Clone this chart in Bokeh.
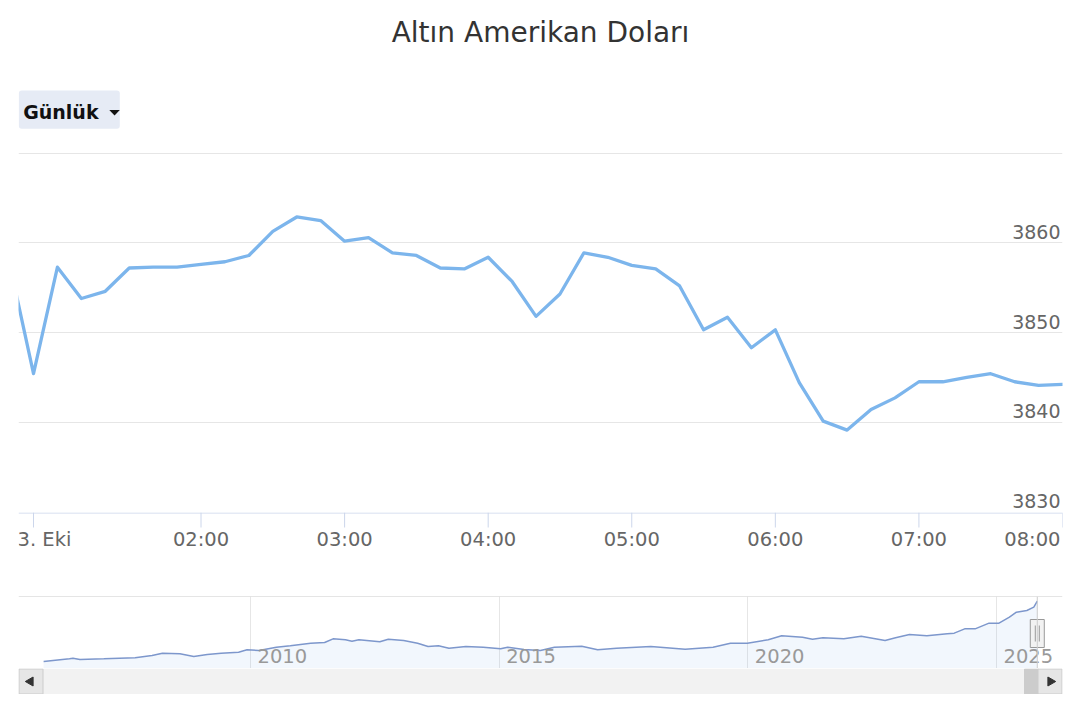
import math
from bokeh.plotting import figure
from bokeh.models import (Range1d, FixedTicker, Grid, LabelSet,
                          ColumnDataSource, Span, Quad)
from bokeh.layouts import column
from bokeh.embed import file_html
from bokeh.resources import INLINE
from bokeh.core.properties import value

FONT = "DejaVu Sans"
TITLE = "Altın Amerikan Doları"
PERIOD = "Günlük"

# ---- intraday series (10-minute points; index -1 is the last point before the session) ----
point_index = list(range(-1, 44))
prices = [3857.7, 3845.4, 3857.3, 3853.8, 3854.6, 3857.2, 3857.3, 3857.3, 3857.6, 3857.9,
          3858.6, 3861.3, 3862.9, 3862.5, 3860.2, 3860.6, 3858.9, 3858.6, 3857.2, 3857.1,
          3858.4, 3855.7, 3851.8, 3854.3, 3858.9, 3858.4, 3857.5, 3857.1, 3855.2, 3850.3,
          3851.7, 3848.3, 3850.3, 3844.4, 3840.1, 3839.1, 3841.4, 3842.7, 3844.5, 3844.5,
          3845.0, 3845.4, 3844.5, 3844.1, 3844.2]
x_tick_index = [0, 7, 13, 19, 25, 31, 37, 43]
x_tick_labels = ["3. Eki", "02:00", "03:00", "04:00", "05:00", "06:00", "07:00", "08:00"]
y_ticks = [3830, 3840, 3850, 3860, 3870]
y_tick_labels = ["3830", "3840", "3850", "3860"]

# ---- navigator (long-term) series ----
nav_years = [2005.84, 2006.36, 2006.43, 2006.57, 2007.05, 2007.68, 2008.02, 2008.23, 2008.58,
             2008.86, 2009.13, 2009.41, 2009.76, 2009.93, 2010.17, 2010.52, 2010.80, 2011.21,
             2011.49, 2011.66, 2011.91, 2012.04, 2012.18, 2012.60, 2012.77, 2013.08, 2013.36,
             2013.57, 2013.78, 2013.99, 2014.33, 2014.68, 2015.03, 2015.17, 2015.50, 2015.83,
             2016.11, 2016.66, 2016.98, 2017.36, 2018.05, 2018.74, 2019.30, 2019.65, 2019.99,
             2020.41, 2020.68, 2021.10, 2021.30, 2021.51, 2021.93, 2022.28, 2022.76, 2022.97,
             2023.25, 2023.60, 2024.01, 2024.15, 2024.36, 2024.57, 2024.85, 2025.05, 2025.26,
             2025.40, 2025.61, 2025.75, 2025.82]
nav_prices = [472, 622, 659, 584, 622, 678, 809, 940, 903,
              753, 865, 940, 996, 1127, 1090, 1277, 1352, 1502,
              1539, 1745, 1689, 1614, 1689, 1577, 1727, 1652, 1502,
              1315, 1352, 1221, 1315, 1277, 1184, 1277, 1150, 1090,
              1277, 1333, 1127, 1221, 1315, 1165, 1277, 1502, 1502,
              1689, 1914, 1839, 1727, 1802, 1745, 1895, 1652, 1802,
              1989, 1914, 2026, 2064, 2307, 2307, 2626, 2626, 2963,
              3244, 3337, 3525, 3862]
nav_year_ticks = [2010, 2015, 2020, 2025]
nav_year_labels = ["2010", "2015", "2020", "2025"]

W = 1080
L, R = 18, 18          # plot area spans page x 18 .. 1062 in every row
TXT_FIX = 7            # text glyph baseline correction (px)


def make(**kw):
    fig = figure(width=W, output_backend="svg", toolbar_location=None,
                 x_axis_location=None, y_axis_location=None,
                 min_border_left=L, min_border_right=R, **kw)
    fig.center = [r for r in fig.center if not isinstance(r, Grid)]
    fig.outline_line_color = None
    fig.background_fill_color = "white"
    fig.border_fill_color = "white"
    return fig


# ---------------- header (title + period button), page pixel space ----------------
HH = 147
hdr = make(height=HH, x_range=Range1d(L, W - R), y_range=Range1d(0, HH),
           min_border_top=0, min_border_bottom=0)
hdr.text(x=[540], y=[HH - 39.3 + TXT_FIX], text=[TITLE], text_align="center",
         text_baseline="alphabetic", text_font=value(FONT), text_font_size="28px",
         text_color="#333333")
qkw = {"border_radius": 3} if "border_radius" in Quad.properties() else {}
hdr.quad(left=[18.3], right=[119.3], bottom=[HH - 128.3], top=[HH - 90], fill_color="#e6ebf5",
         line_color=None, **qkw)
hdr.text(x=[22.7], y=[HH - 117.3 + TXT_FIX - 1], text=[PERIOD], text_align="left",
         text_baseline="alphabetic", text_font=value(FONT), text_font_style="bold",
         text_font_size="19px", text_color="#111111")
hdr.patch(x=[108.8, 119.3, 114.05], y=[HH - 109.5, HH - 109.5, HH - 115.0],
          fill_color="#111111", line_color=None)

# ---------------- main chart ----------------
XR = Range1d(-0.627, 43)
main = make(height=365, x_range=XR, y_range=Range1d(3829.9, 3870.1),
            min_border_top=5, min_border_bottom=0)
main.add_layout(Grid(dimension=1, ticker=FixedTicker(ticks=y_ticks[1:]),
                     grid_line_color="#e6e6e6", grid_line_width=1))
main.line(point_index, prices, line_color="#7cb5ec", line_width=3.3,
          line_join="round", line_cap="round")
ysrc = ColumnDataSource(dict(x=[XR.end] * len(y_tick_labels),
                             y=y_ticks[:len(y_tick_labels)], t=y_tick_labels))
main.add_layout(LabelSet(x="x", y="y", text="t", source=ysrc, text_align="right",
                         text_baseline="alphabetic", x_offset=-2, y_offset=4,
                         text_font=value(FONT), text_font_size="19px", text_color="#666666"))

# ---------------- x axis strip (axis line, ticks, labels) ----------------
SH = 53
axs = make(height=SH, x_range=XR, y_range=Range1d(0, SH), min_border_top=0, min_border_bottom=0)
axs.segment(x0=[XR.start], x1=[XR.end], y0=[SH - 0.5], y1=[SH - 0.5],
            line_color="#ccd6eb", line_width=1)
axs.segment(x0=x_tick_index, x1=x_tick_index, y0=[SH] * len(x_tick_index),
            y1=[SH - 15] * len(x_tick_index), line_color="#ccd6eb", line_width=1)
last = len(x_tick_index) - 1
for i, (t, lab) in enumerate(zip(x_tick_index, x_tick_labels)):
    if i == 0:
        a, o = "left", -16
    elif i == last:
        a, o = "right", -2
    else:
        a, o = "center", 0
    axs.text(x=[t], y=[SH - 33 + TXT_FIX - 1], text=[lab], x_offset=o, text_align=a,
             text_baseline="alphabetic", text_font=value(FONT), text_font_size="19.5px",
             text_color="#666666")

# ---------------- navigator ----------------
NY0, NY1 = 79, 4124
NX0, NX1 = 2005.335, 2026.327
nav = make(height=103, x_range=Range1d(NX0, NX1), y_range=Range1d(NY0, NY1),
           min_border_top=31, min_border_bottom=0)
nav.add_layout(Grid(dimension=0, ticker=FixedTicker(ticks=nav_year_ticks),
                    grid_line_color="#e6e6e6", grid_line_width=1))
nav.varea(x=nav_years, y1=[NY0] * len(nav_years), y2=nav_prices,
          fill_color="#7cb5ec", fill_alpha=0.1)
nav.line(nav_years, nav_prices, line_color="#7d97cc", line_width=1.5)
nsrc = ColumnDataSource(dict(x=nav_year_ticks, y=[NY0] * len(nav_year_ticks), t=nav_year_labels))
nav.add_layout(LabelSet(x="x", y="y", text="t", source=nsrc, text_align="left",
                        text_baseline="alphabetic", x_offset=7, y_offset=6,
                        text_font=value(FONT), text_font_size="19.5px", text_color="#999999"))
nav.add_layout(Span(location=NY1, dimension="width", line_color="#cccccc", line_width=1))
nav.add_layout(Span(location=nav_years[-1], dimension="height", line_color="#cccccc", line_width=1))
xpp = (NX1 - NX0) / 1044.0
ypp = (NY1 - NY0) / 72.0
hx = nav_years[-1]
hy = NY0 + 35 * ypp
nav.quad(left=[hx - 7 * xpp], right=[hx + 7 * xpp], bottom=[hy - 14 * ypp], top=[hy + 14 * ypp],
         fill_color="#f2f2f2", line_color="#999999", line_width=1)
nav.segment(x0=[hx - 2 * xpp, hx + 2 * xpp], x1=[hx - 2 * xpp, hx + 2 * xpp],
            y0=[hy - 8 * ypp] * 2, y1=[hy + 8 * ypp] * 2, line_color="#999999", line_width=1)

# ---------------- scrollbar, page pixel space ----------------
sb = make(height=26, x_range=Range1d(L, W - R), y_range=Range1d(0, 26),
          min_border_top=0, min_border_bottom=0)
sb.quad(left=[18], right=[1062], bottom=[0], top=[26], fill_color="#f2f2f2", line_color=None)
sb.quad(left=[1024], right=[1038], bottom=[0.5], top=[25.5], fill_color="#cccccc",
        line_color="#cccccc")
sb.quad(left=[18.5, 1037.5], right=[42.5, 1061.5], bottom=[0.5, 0.5], top=[25.5, 25.5],
        fill_color="#e6e6e6", line_color="#cccccc", line_width=1)
sb.scatter(x=[30], y=[13], marker="triangle", angle=math.pi / 2, size=9,
           fill_color="#333333", line_color="#333333")
sb.scatter(x=[1050], y=[13], marker="triangle", angle=-math.pi / 2, size=9,
           fill_color="#333333", line_color="#333333")

layout = column(hdr, main, axs, nav, sb)
open("out.html", "w").write(file_html(layout, INLINE))
